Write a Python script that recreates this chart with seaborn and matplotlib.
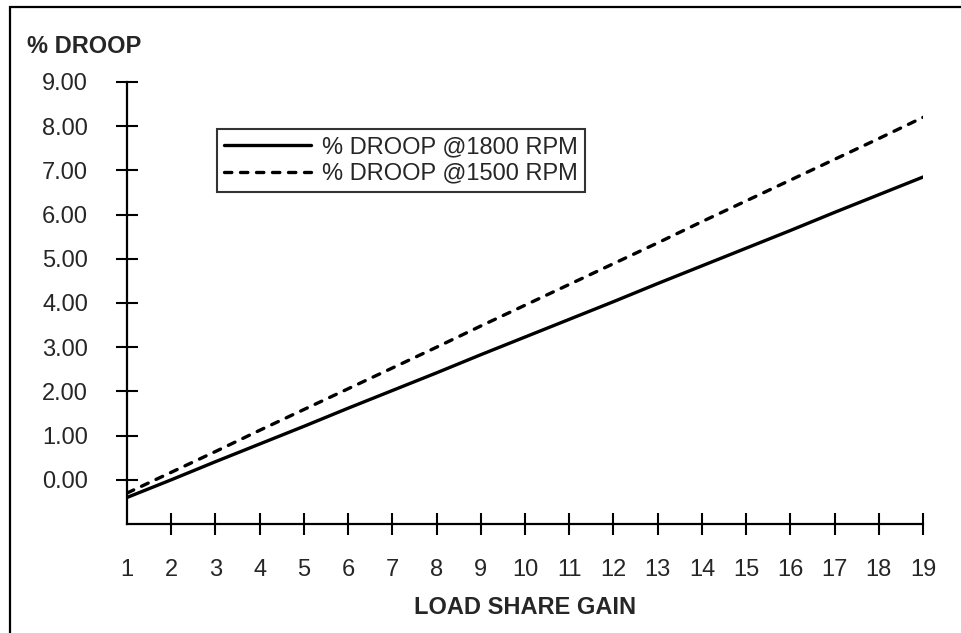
import matplotlib
matplotlib.use("Agg")
import matplotlib.pyplot as plt
import matplotlib.patches as patches
import seaborn as sns
import pandas as pd

# values
gain = [1, 2, 3, 4, 5, 6, 7, 8, 9, 10, 11, 12, 13, 14, 15, 16, 17, 18, 19]
droop_1800 = [-0.40, 0.00, 0.41, 0.81, 1.21, 1.62, 2.02, 2.42, 2.83, 3.23,
              3.63, 4.03, 4.44, 4.84, 5.24, 5.64, 6.05, 6.45, 6.85]
droop_1500 = [-0.30, 0.17, 0.64, 1.12, 1.59, 2.06, 2.53, 3.00, 3.48, 3.95,
              4.42, 4.89, 5.36, 5.84, 6.31, 6.78, 7.25, 7.72, 8.20]
y_ticks = [0, 1, 2, 3, 4, 5, 6, 7, 8, 9]
x_ticks = gain

sns.set_style("white")
plt.rcParams['font.family'] = ['Liberation Sans', 'DejaVu Sans']
fs = 17

df = pd.DataFrame({
    'gain': gain * 2,
    'droop': droop_1800 + droop_1500,
    'series': ['% DROOP @1800 RPM'] * len(gain) + ['% DROOP @1500 RPM'] * len(gain),
})

fig = plt.figure(figsize=(9.61, 6.33), dpi=100)
ax = fig.add_axes([0.1322, 0.1722, 0.8283, 0.6983])

sns.lineplot(data=df, x='gain', y='droop', style='series', color='black',
             linewidth=2.4, dashes={'% DROOP @1800 RPM': '', '% DROOP @1500 RPM': (2.2, 2.6)},
             ax=ax, legend=True)
for ln in ax.get_lines():
    ln.set_dash_capstyle('round')

ax.set_xlim(1, 19)
ax.set_ylim(-1, 9)
ax.set_xticks(x_ticks)
ax.set_xticklabels([str(v) for v in x_ticks], fontsize=fs)
ax.set_yticks(y_ticks)
ax.set_yticklabels([f"{v:.2f}" for v in y_ticks], fontsize=fs)
ax.tick_params(axis='both', direction='inout', length=16, width=1.5, color='black',
               bottom=True, left=True)
ax.tick_params(axis='y', pad=20)
ax.tick_params(axis='x', pad=17)
xt = ax.xaxis.get_major_ticks()
xt[0].tick1line.set_visible(False)
for s in ['top', 'right']:
    ax.spines[s].set_visible(False)
for s in ['left', 'bottom']:
    ax.spines[s].set_color('black')
    ax.spines[s].set_linewidth(1.6)
ax.set_xlabel('')
ax.set_ylabel('')

leg = ax.legend(loc='upper left', bbox_to_anchor=(0.2258, 0.7962),
                bbox_transform=fig.transFigure, fontsize=fs, frameon=True,
                fancybox=False, borderaxespad=0, borderpad=0.3,
                handlelength=3.7, handletextpad=0.45, labelspacing=0.2)
leg.get_frame().set_edgecolor('black')
leg.get_frame().set_linewidth(1.5)
for ln in leg.get_lines():
    ln.set_linewidth(2.4)
    ln.set_dash_capstyle('round')

fig.text(0.028, 0.926, '% DROOP', fontsize=fs, fontweight='bold', ha='left', va='center')
fig.text(0.5463, 0.0395, 'LOAD SHARE GAIN', fontsize=fs, fontweight='bold', ha='center', va='center')

border = patches.Rectangle((9.5 / 961, -0.1), 1.2, 1.1 - 7.5 / 633, transform=fig.transFigure,
                           fill=False, edgecolor='black', linewidth=1.6, clip_on=False)
fig.add_artist(border)

fig.savefig('out.png', dpi=100)
